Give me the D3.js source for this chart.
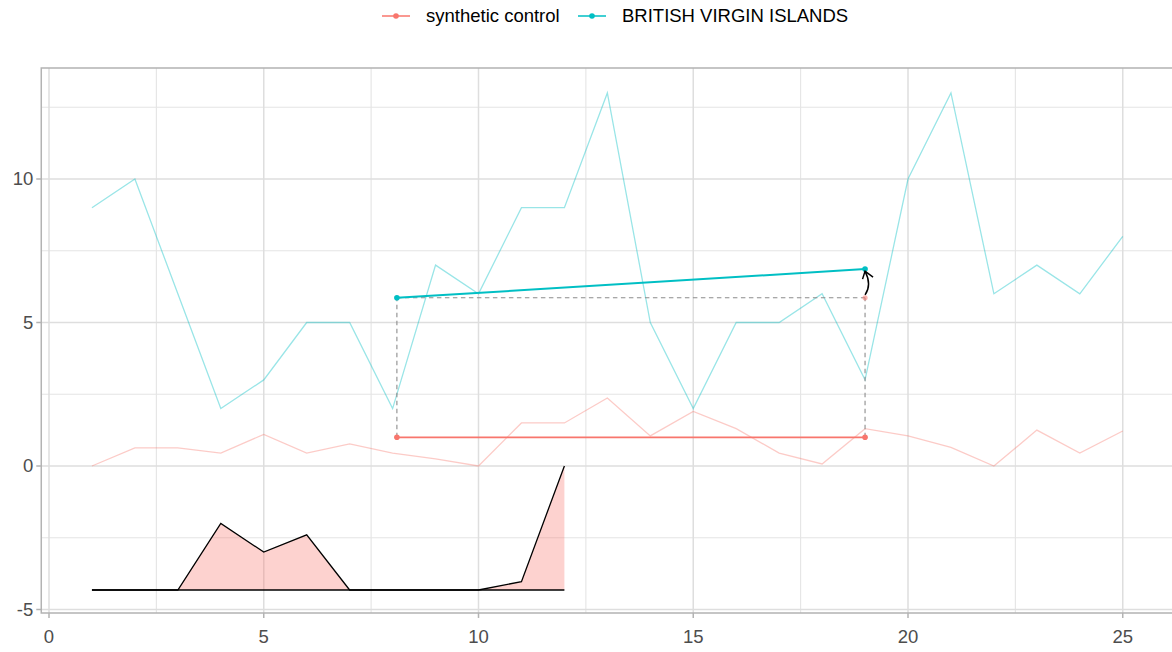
<!DOCTYPE html>
<html>
<head>
<meta charset="utf-8">
<script src="https://cdn.jsdelivr.net/npm/d3@7"></script>
<style>
  html, body { margin: 0; padding: 0; background: #fff; }
  svg { display: block; font-family: "Liberation Sans", Arial, sans-serif; }
</style>
</head>
<body>
<svg id="chart" width="1172" height="652"></svg>
<script>
// ---- data ----
const years = [1,2,3,4,5,6,7,8,9,10,11,12,13,14,15,16,17,18,19,20,21,22,23,24,25];
const bviValues = [9,10,6,2,3,5,5,2,7,6,9,9,13,5,2,5,5,6,3,10,13,6,7,6,8];
const synthValues = [0,0.63,0.63,0.45,1.1,0.45,0.77,0.45,0.25,0,1.5,1.5,2.37,1.05,1.9,1.3,0.45,0.07,1.3,1.05,0.65,0,1.25,0.45,1.22];

// period means (pre / post)
const periodX = [8.1, 19];
const bviMeans = [5.86, 6.86];
const synthMeans = [1.0, 1.0];
const counterfactual = 5.86;

// weight profile drawn along the bottom
const weightX = [1,2,3,4,5,6,7,8,9,10,11,12];
const weightValues = [-4.32,-4.32,-4.32,-2,-3,-2.4,-4.32,-4.32,-4.32,-4.32,-4.03,0];
const weightBase = -4.32;

const xTicks = [0,5,10,15,20,25];
const xMinor = [2.5,7.5,12.5,17.5,22.5];
const yTicks = [-5,0,5,10];
const yMinor = [-2.5,2.5,7.5,12.5];

const seriesNames = ["synthetic control", "BRITISH VIRGIN ISLANDS"];
const seriesColors = ["#F8766D", "#00BFC4"];

// ---- layout ----
const svg = d3.select("#chart");
const x = d3.scaleLinear().domain([0, 25]).range([49, 49 + 25 * 42.95]);
const y = d3.scaleLinear().domain([-5, 10]).range([609.5, 179]);

const panel = { left: x(-0.18), right: 1200, top: y(13.87), bottom: y(-5.12) };

svg.append("defs").append("clipPath").attr("id", "pclip")
  .append("rect")
  .attr("x", panel.left).attr("y", panel.top)
  .attr("width", panel.right - panel.left).attr("height", panel.bottom - panel.top);

// grid
const grid = svg.append("g").attr("clip-path", "url(#pclip)");
grid.selectAll("line.xminor").data(xMinor).join("line")
  .attr("x1", d => x(d)).attr("x2", d => x(d))
  .attr("y1", panel.top).attr("y2", panel.bottom)
  .attr("stroke", "#e4e4e4").attr("stroke-width", 1.1);
grid.selectAll("line.yminor").data(yMinor).join("line")
  .attr("y1", d => y(d)).attr("y2", d => y(d))
  .attr("x1", panel.left).attr("x2", panel.right)
  .attr("stroke", "#e4e4e4").attr("stroke-width", 1.1);
grid.selectAll("line.xmajor").data(xTicks).join("line")
  .attr("x1", d => x(d)).attr("x2", d => x(d))
  .attr("y1", panel.top).attr("y2", panel.bottom)
  .attr("stroke", "#dedede").attr("stroke-width", 1.5);
grid.selectAll("line.ymajor").data(yTicks).join("line")
  .attr("y1", d => y(d)).attr("y2", d => y(d))
  .attr("x1", panel.left).attr("x2", panel.right)
  .attr("stroke", "#dedede").attr("stroke-width", 1.5);

const plot = svg.append("g").attr("clip-path", "url(#pclip)");

// thin yearly series
const line = d3.line().x(d => x(d[0])).y(d => y(d[1]));
plot.append("path")
  .datum(years.map((d, i) => [d, synthValues[i]]))
  .attr("d", line).attr("fill", "none")
  .attr("stroke", seriesColors[0]).attr("stroke-opacity", 0.38).attr("stroke-width", 1.3);
plot.append("path")
  .datum(years.map((d, i) => [d, bviValues[i]]))
  .attr("d", line).attr("fill", "none")
  .attr("stroke", seriesColors[1]).attr("stroke-opacity", 0.4).attr("stroke-width", 1.3);

// weight profile area
const wData = weightX.map((d, i) => [d, weightValues[i]]);
plot.append("path").datum(wData)
  .attr("d", d3.area().x(d => x(d[0])).y0(y(weightBase)).y1(d => y(d[1])))
  .attr("fill", seriesColors[0]).attr("fill-opacity", 0.33);
plot.append("path").datum(wData)
  .attr("d", line).attr("fill", "none").attr("stroke", "#000").attr("stroke-width", 1.3);
plot.append("path")
  .datum([[weightX[0], weightBase], [weightX[weightX.length - 1], weightBase]])
  .attr("d", line).attr("fill", "none").attr("stroke", "#000").attr("stroke-width", 1.4);

// dashed guides
const dash = plot.append("g").attr("stroke", "#8c8c8c").attr("stroke-width", 1.1)
  .attr("stroke-dasharray", "4.5,3.5").attr("fill", "none");
dash.append("path").attr("d", line([[periodX[0], synthMeans[0]], [periodX[0], bviMeans[0]]]));
dash.append("path").attr("d", line([[periodX[0], bviMeans[0]], [periodX[1], counterfactual]]));
dash.append("path").attr("d", line([[periodX[1], synthMeans[1]], [periodX[1], counterfactual]]));

// period mean segments
plot.append("path").datum(periodX.map((d, i) => [d, synthMeans[i]]))
  .attr("d", line).attr("fill", "none").attr("stroke", seriesColors[0]).attr("stroke-width", 1.8);
plot.append("path").datum(periodX.map((d, i) => [d, bviMeans[i]]))
  .attr("d", line).attr("fill", "none").attr("stroke", seriesColors[1]).attr("stroke-width", 2);

plot.selectAll("circle.s").data(periodX).join("circle")
  .attr("cx", d => x(d)).attr("cy", (d, i) => y(synthMeans[i])).attr("r", 2.8)
  .attr("fill", seriesColors[0]);
plot.selectAll("circle.b").data(periodX).join("circle")
  .attr("cx", d => x(d)).attr("cy", (d, i) => y(bviMeans[i])).attr("r", 2.8)
  .attr("fill", seriesColors[1]);
plot.append("circle")
  .attr("cx", x(periodX[1])).attr("cy", y(counterfactual)).attr("r", 2.6)
  .attr("fill", seriesColors[0]).attr("fill-opacity", 0.55);

// effect arrow (curved, open head)
const ax = x(periodX[1]);
const ay0 = y(counterfactual) - 3;
const ay1 = y(bviMeans[1]) + 2;
plot.append("path")
  .attr("d", `M${ax},${ay0} Q${ax + 7},${(ay0 + ay1) / 2 + 2} ${ax},${ay1}`)
  .attr("fill", "none").attr("stroke", "#000").attr("stroke-width", 1.5);
plot.append("path")
  .attr("d", `M${ax - 2.5},${ay1 + 8} L${ax},${ay1} L${ax + 8},${ay1 + 6}`)
  .attr("fill", "none").attr("stroke", "#000").attr("stroke-width", 1.5);

// panel border (left, top, bottom)
svg.append("path")
  .attr("d", `M${panel.right},${panel.top} H${panel.left} V${panel.bottom} H${panel.right}`)
  .attr("fill", "none").attr("stroke", "#b3b3b3").attr("stroke-width", 1.5);

// axes
const tickColor = "#b3b3b3";
const textColor = "#4d4d4d";
const fs = 18.5;
const xAxis = svg.append("g");
xAxis.selectAll("line").data(xTicks).join("line")
  .attr("x1", d => x(d)).attr("x2", d => x(d))
  .attr("y1", panel.bottom).attr("y2", panel.bottom + 5)
  .attr("stroke", tickColor).attr("stroke-width", 1.5);
xAxis.selectAll("text").data(xTicks).join("text")
  .attr("x", d => x(d)).attr("y", panel.bottom + 30)
  .attr("text-anchor", "middle").attr("font-size", fs).attr("fill", textColor)
  .text(d => d);

const yAxis = svg.append("g");
yAxis.selectAll("line").data(yTicks).join("line")
  .attr("y1", d => y(d)).attr("y2", d => y(d))
  .attr("x1", panel.left - 5).attr("x2", panel.left)
  .attr("stroke", tickColor).attr("stroke-width", 1.5);
yAxis.selectAll("text").data(yTicks).join("text")
  .attr("x", panel.left - 8).attr("y", d => y(d))
  .attr("dy", "0.35em")
  .attr("text-anchor", "end").attr("font-size", fs).attr("fill", textColor)
  .text(d => d);

// legend
const legend = svg.append("g");
const legendItems = [
  { name: seriesNames[0], color: seriesColors[0], x: 382 },
  { name: seriesNames[1], color: seriesColors[1], x: 578 }
];
const ly = 16;
legendItems.forEach(it => {
  const g = legend.append("g");
  g.append("line").attr("x1", it.x).attr("x2", it.x + 28).attr("y1", ly).attr("y2", ly)
    .attr("stroke", it.color).attr("stroke-width", 1.5);
  g.append("circle").attr("cx", it.x + 14).attr("cy", ly).attr("r", 2.8).attr("fill", it.color);
  g.append("text").attr("x", it.x + 44).attr("y", ly).attr("dy", "0.35em")
    .attr("font-size", fs).attr("fill", "#000").text(it.name);
});
</script>
</body>
</html>
